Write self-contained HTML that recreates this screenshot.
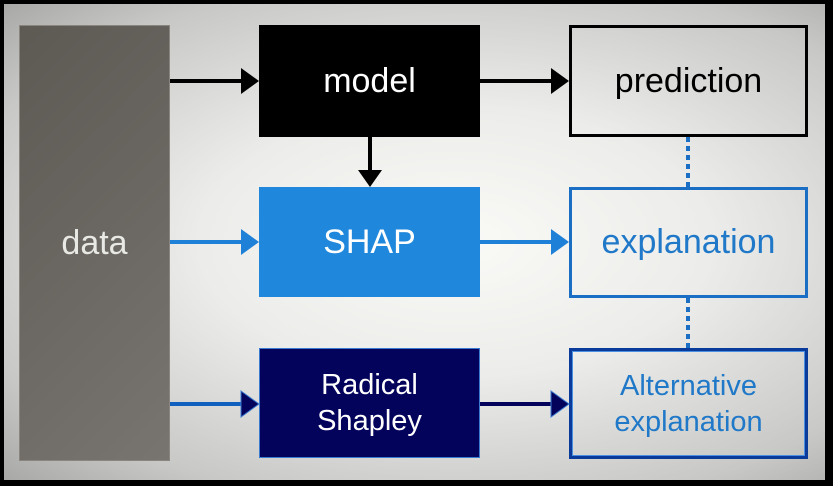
<!DOCTYPE html>
<html><head><style>
body{margin:0;width:833px;height:486px;background:#000;overflow:hidden;font-family:"Liberation Sans",sans-serif}
#bg{position:absolute;left:4px;top:4px;width:821px;height:476px;background:radial-gradient(ellipse at 55% 50%,#fafaf7 0%,#ececea 40%,#c8c8c6 80%,#a8a8a6 100%)}
.b{position:absolute;box-sizing:border-box;display:flex;align-items:center;justify-content:center;text-align:center}
</style></head><body>
<div id="bg"></div>
<div class="b" style="left:19px;top:25px;width:151px;height:436px;background:linear-gradient(135deg,#5d5a54,#787470);border:1px solid #8a867f;color:#e8e8e4;font-size:34px">data</div>
<div class="b" style="left:259px;top:25px;width:221px;height:112px;background:#000;color:#fff;font-size:34px">model</div>
<div class="b" style="left:569px;top:25px;width:239px;height:112px;border:3px solid #000;color:#000;font-size:34px">prediction</div>
<div class="b" style="left:259px;top:187px;width:221px;height:110px;background:#2088dc;color:#fff;font-size:34px">SHAP</div>
<div class="b" style="left:569px;top:187px;width:239px;height:111px;border:3px solid #1a6fc4;color:#1f78c8;font-size:34px">explanation</div>
<div class="b" style="left:259px;top:348px;width:221px;height:110px;background:#03035c;border:1px solid #3a7ad0;color:#fff;font-size:29px;line-height:36px">Radical<br>Shapley</div>
<div class="b" style="left:569px;top:348px;width:239px;height:111px;border:3px solid #0a3a9a;box-shadow:inset 0 0 0 1px #4a90e0;color:#1f78c8;font-size:29px;line-height:36px">Alternative<br>explanation</div>
<svg width="833" height="486" style="position:absolute;left:0;top:0">
<g fill="none" stroke-width="4">
<line x1="170" y1="81" x2="243" y2="81" stroke="#000"/>
<line x1="480" y1="81" x2="553" y2="81" stroke="#000"/>
<line x1="370" y1="137" x2="370" y2="172" stroke="#000"/>
<line x1="170" y1="242" x2="243" y2="242" stroke="#1f80d8"/>
<line x1="480" y1="242" x2="553" y2="242" stroke="#1f80d8"/>
<line x1="170" y1="404" x2="243" y2="404" stroke="#1060c0"/>
<line x1="480" y1="404" x2="553" y2="404" stroke="#03035c"/>
<line x1="688" y1="137" x2="688" y2="187" stroke="#1a6fc4" stroke-dasharray="5,4"/>
<line x1="688" y1="298" x2="688" y2="348" stroke="#1a6fc4" stroke-dasharray="5,4"/>
</g>
<polygon points="241,68 259,81 241,94" fill="#000"/>
<polygon points="551,68 569,81 551,94" fill="#000"/>
<polygon points="358,170 370,187 382,170" fill="#000"/>
<polygon points="241,229 259,242 241,255" fill="#1f80d8"/>
<polygon points="551,229 569,242 551,255" fill="#1f80d8"/>
<polygon points="241,391 259,404 241,417" fill="#03035c" stroke="#3a7ad0"/>
<polygon points="551,391 569,404 551,417" fill="#03035c" stroke="#3a7ad0"/>
</svg>
</body></html>
